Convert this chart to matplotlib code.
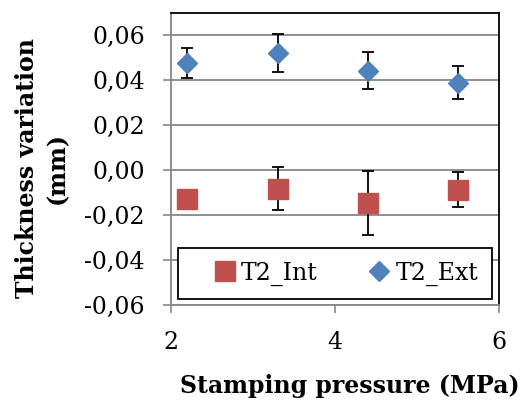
import matplotlib.pyplot as plt
from matplotlib.ticker import FuncFormatter

# stamping pressure (MPa)
pressure = [2.2, 3.3, 4.4, 5.5]

# thickness variation (mm), mean and spread
t2_int = [-0.0130, -0.0083, -0.0147, -0.0087]
t2_int_err = [0.002, 0.0096, 0.0143, 0.0078]
t2_ext = [0.0477, 0.0522, 0.0443, 0.0390]
t2_ext_err = [0.0067, 0.0086, 0.0081, 0.0073]

plt.rcParams['font.family'] = ['DejaVu Serif']

fig = plt.figure(figsize=(5.23, 4.03), dpi=100)
ax = fig.add_axes([0.327, 0.243, 0.627, 0.725])

ax.errorbar(pressure, t2_int, yerr=t2_int_err, fmt='none', ecolor='black',
            elinewidth=1.3, capsize=4, capthick=1.3, zorder=3)
ax.errorbar(pressure, t2_ext, yerr=t2_ext_err, fmt='none', ecolor='black',
            elinewidth=1.3, capsize=4, capthick=1.3, zorder=3)
ax.plot(pressure, t2_int, 's', color='#C0504D', markersize=14, label='T2_Int', zorder=4)
ax.plot(pressure, t2_ext, 'D', color='#4F81BD', markersize=10, label='T2_Ext', zorder=4)

ax.set_xlim(2, 6)
ax.set_ylim(-0.06, 0.07)
ax.set_xticks([2, 4, 6])
ax.set_yticks([-0.06, -0.04, -0.02, 0.0, 0.02, 0.04, 0.06])
# decimal comma on the y axis
ax.yaxis.set_major_formatter(FuncFormatter(lambda v, p: f'{v:.2f}'.replace('.', ',').replace('-0,00', '0,00')))
ax.yaxis.grid(True, color='#878787', linewidth=1.3)
ax.set_axisbelow(True)

ax.tick_params(axis='both', labelsize=17, direction='out', length=5.8, color='#878787', width=1.2)
ax.tick_params(axis='x', pad=13)
ax.tick_params(axis='y', pad=13)
for side in ['left', 'bottom']:
    ax.spines[side].set_color('#878787')
    ax.spines[side].set_linewidth(1.3)
for side in ['top', 'right']:
    ax.spines[side].set_color('black')
    ax.spines[side].set_linewidth(1.3)

ax.set_xlabel('Stamping pressure (MPa)', fontsize=17, fontweight='bold')
ax.xaxis.set_label_coords(0.546, -0.235)
ax.set_ylabel('Thickness variation\n(mm)', fontsize=17, fontweight='bold', linespacing=1.35)
ax.yaxis.set_label_coords(-0.31, 0.47)

leg = ax.legend(loc='lower center', bbox_to_anchor=(0.5, 0.02), ncol=2, fontsize=17,
                frameon=True, fancybox=False, edgecolor='black', framealpha=1,
                handletextpad=-0.7, columnspacing=1.2, borderpad=0.58, handlelength=2.8,
                borderaxespad=0)
leg.get_frame().set_linewidth(1.3)

fig.savefig('out.png', dpi=100)
